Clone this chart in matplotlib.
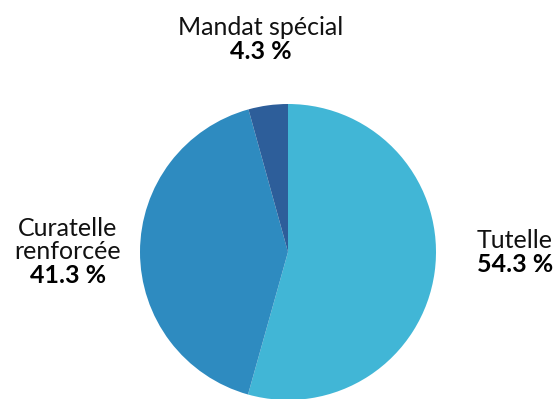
import matplotlib.pyplot as plt

# Data
labels = ['Tutelle', 'Curatelle\nrenforcée', 'Mandat spécial']
values = [54.3, 41.3, 4.3]
colors = ['#41B6D6', '#2E8BC0', '#2D5E9A']

# label anchor positions (pixels, from top-left) and alignment
label_pos = [(553, 253, 'right'), (68, 264, 'center'), (261, 40, 'center')]

plt.rcParams['font.family'] = ['Lato', 'DejaVu Sans']

fig = plt.figure(figsize=(5.58, 3.99), dpi=100)
ax = fig.add_axes([0, 0, 1, 1])

ax.pie(values, colors=colors, startangle=90, counterclock=False,
       center=(288, 399 - 252), radius=148, frame=True)
ax.set_xlim(0, 558)
ax.set_ylim(0, 399)
ax.set_aspect('equal')
ax.axis('off')

for lab, val, (x, y, ha) in zip(labels, values, label_pos):
    ax.text(x, 399 - y + 1, lab, ha=ha, va='bottom', fontsize=18,
            color='#111111', linespacing=1.0, multialignment=ha)
    ax.text(x, 399 - y, f'{val} %', ha=ha, va='top', fontsize=18,
            fontweight='bold', color='#000000')

fig.savefig('out.png', dpi=100)
